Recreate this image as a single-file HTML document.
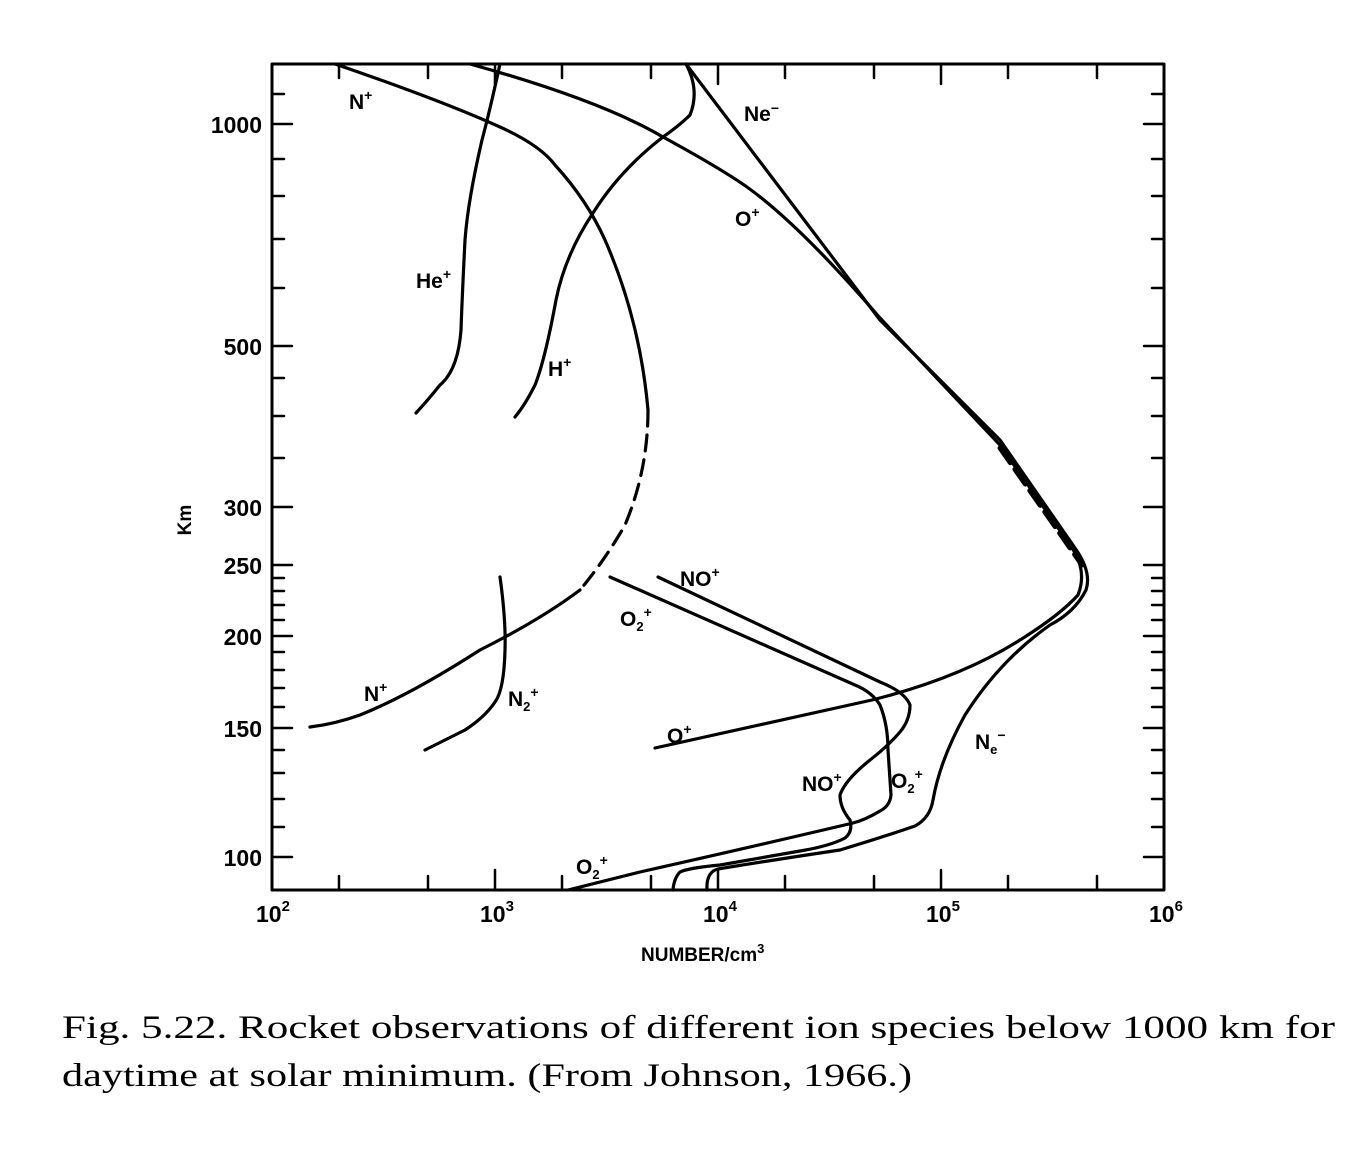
<!DOCTYPE html>
<html><head><meta charset="utf-8"><style>
html,body{margin:0;padding:0;background:#fff;}
svg{display:block;}
</style></head><body>
<svg width="1350" height="1167" viewBox="0 0 1350 1167" xmlns="http://www.w3.org/2000/svg">
<g fill="none" stroke="#000" stroke-linecap="round" stroke-linejoin="round">
<rect x="272" y="64" width="892" height="826" stroke-width="3"/>
<g stroke-width="2.5">
<path d="M339 890v-14M428 890v-14M495 890v-20M562 890v-14M651 890v-14M718 890v-20M785 890v-14M874 890v-14M941 890v-20M1008 890v-14M1097 890v-14"/>
<path d="M339 64v14M428 64v14M495 64v20M562 64v14M651 64v14M718 64v20M785 64v14M874 64v14M941 64v20M1008 64v14M1097 64v14"/>
<path d="M272 857h20M272 827h12M272 799h12M272 773h12M272 750h12M272 728h20M272 707h12M272 688h12M272 670h12M272 652h12M272 636h20M272 620h12M272 605h12M272 591h12M272 578h12M272 565h20M272 507h20M272 458h12M272 416h12M272 378h12M272 346h20M272 288h12M272 239h12M272 196h12M272 159h12M272 124h20M272 94h12"/>
<path d="M1164 857h-20M1164 827h-12M1164 799h-12M1164 773h-12M1164 750h-12M1164 728h-20M1164 707h-12M1164 688h-12M1164 670h-12M1164 652h-12M1164 636h-20M1164 620h-12M1164 605h-12M1164 591h-12M1164 578h-12M1164 565h-20M1164 507h-20M1164 458h-12M1164 416h-12M1164 378h-12M1164 346h-20M1164 288h-12M1164 239h-12M1164 196h-12M1164 159h-12M1164 124h-20M1164 94h-12"/>
</g>
<g stroke-width="3.2">
<path d="M686 64 L880 320 L1000 440 L1075 548 Q1092 572 1086 590 Q1075 612 1050 625 Q1000 660 965 715 Q940 760 933 800 Q930 818 915 826 Q880 838 840 850 Q760 862 718 869 Q706 872 707 890"/>
<path d="M470 64 Q600 100 663 137 Q720 168 747 187 Q800 225 880 318 L1000 445 L1070 545 Q1088 570 1078 595 Q1060 615 1020 640 Q960 678 872 700 L655 748"/>
<path d="M1000 448 L1082 565" stroke-width="5" stroke-dasharray="18 8"/>
<path d="M335 64 Q440 100 500 127 Q540 145 555 165 Q587 200 605 240 Q640 320 648 410"/>
<path d="M648 410 Q648 470 625 525 Q605 560 580 590" stroke-dasharray="16 9"/>
<path d="M580 590 Q540 620 480 650 Q410 695 360 715 Q335 724 310 727"/>
<path d="M500 64 Q490 110 482 140 Q468 200 465 240 Q462 300 461 330 Q458 370 440 385 Q428 400 416 413"/>
<path d="M686 64 Q700 90 690 115 Q680 125 663 137 Q620 170 593 213 Q565 255 556 300 Q545 360 535 385 Q525 405 515 417"/>
<path d="M500 577 Q506 620 505 650 Q504 690 495 702 Q485 717 465 730 Q445 740 425 750"/>
<path d="M610 577 L855 685 Q872 692 880 705 Q888 725 888 750 L891 795 Q890 806 880 811 Q865 820 853 823 Q760 845 640 872 L568 890"/>
<path d="M658 577 L880 682 Q905 692 910 705 Q910 720 900 732 Q887 747 870 760 Q845 780 840 795 Q840 808 850 820 Q853 832 845 838 Q830 846 800 851 L720 865 Q688 868 680 872 Q674 878 673 890"/>
</g>
</g>
<g font-family="Liberation Sans, sans-serif" font-size="23" font-weight="bold" fill="#000">
<g text-anchor="end">
<text x="262" y="133">1000</text>
<text x="262" y="355">500</text>
<text x="262" y="516">300</text>
<text x="262" y="574">250</text>
<text x="262" y="645">200</text>
<text x="262" y="737">150</text>
<text x="262" y="866">100</text>
</g>
<text x="256" y="922">10<tspan font-size="15" dy="-11">2</tspan></text>
<text x="480" y="922">10<tspan font-size="15" dy="-11">3</tspan></text>
<text x="703" y="922">10<tspan font-size="15" dy="-11">4</tspan></text>
<text x="926" y="922">10<tspan font-size="15" dy="-11">5</tspan></text>
<text x="1149" y="922">10<tspan font-size="15" dy="-11">6</tspan></text>
<text x="641" y="961" font-size="19">NUMBER/cm<tspan font-size="13" dy="-8">3</tspan></text>
<text transform="translate(191,520) rotate(-90)" text-anchor="middle" font-size="19">Km</text>
<g font-size="21">
<text x="349" y="109">N<tspan font-size="14" dy="-9">+</tspan></text>
<text x="744" y="121">Ne<tspan font-size="14" dy="-8">−</tspan></text>
<text x="735" y="226">O<tspan font-size="14" dy="-9">+</tspan></text>
<text x="416" y="288">He<tspan font-size="14" dy="-9">+</tspan></text>
<text x="548" y="376">H<tspan font-size="14" dy="-9">+</tspan></text>
<text x="680" y="586">NO<tspan font-size="14" dy="-9">+</tspan></text>
<text x="620" y="626">O<tspan font-size="13" dy="5">2</tspan><tspan font-size="14" dy="-14">+</tspan></text>
<text x="364" y="701">N<tspan font-size="14" dy="-9">+</tspan></text>
<text x="508" y="706">N<tspan font-size="13" dy="5">2</tspan><tspan font-size="14" dy="-14">+</tspan></text>
<text x="667" y="743">O<tspan font-size="14" dy="-9">+</tspan></text>
<text x="802" y="791">NO<tspan font-size="14" dy="-9">+</tspan></text>
<text x="891" y="788">O<tspan font-size="13" dy="5">2</tspan><tspan font-size="14" dy="-14">+</tspan></text>
<text x="975" y="749">N<tspan font-size="13" dy="5">e</tspan><tspan font-size="14" dy="-14">−</tspan></text>
<text x="576" y="874">O<tspan font-size="13" dy="5">2</tspan><tspan font-size="14" dy="-14">+</tspan></text>
</g>
</g>
<g font-family="Liberation Serif, serif" font-size="33" fill="#000">
<text x="62" y="1038" textLength="1273" lengthAdjust="spacingAndGlyphs">Fig. 5.22.  Rocket observations of different ion species below 1000 km for</text>
<text x="62" y="1086" textLength="850" lengthAdjust="spacingAndGlyphs">daytime at solar minimum. (From Johnson, 1966.)</text>
</g>
</svg>
</body></html>
